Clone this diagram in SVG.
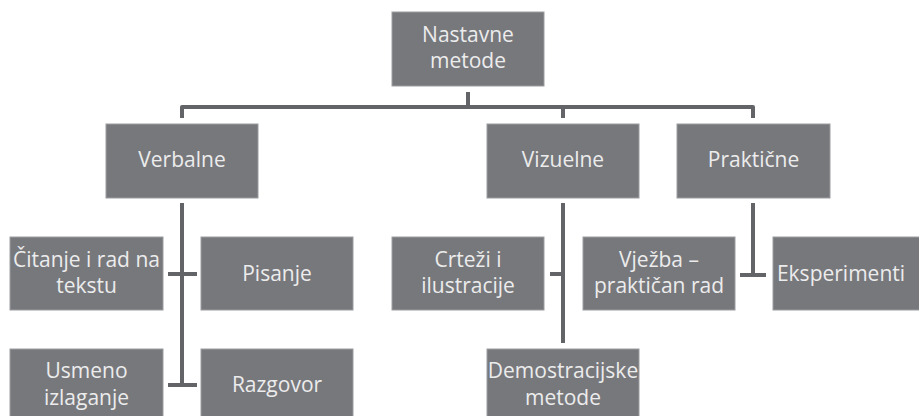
<svg xmlns="http://www.w3.org/2000/svg" width="919" height="416" viewBox="0 0 919 416">
<style>
.box{fill:#77787c;stroke:#9c9da0;stroke-width:1}
.t{font-family:"Open Sans","DejaVu Sans",sans-serif;font-size:21px;fill:#ececec;text-anchor:middle}
.c{stroke:#636467;stroke-width:4;fill:none;stroke-linecap:butt;stroke-linejoin:round}
</style>
<rect width="919" height="416" fill="#ffffff"/>
<g id="connectors">
<path class="c" d="M468 92V107M182 118V107H753V118M563 107V118"/>
<path class="c" d="M182 203V385M168 274H197M168 385H197"/>
<path class="c" d="M563 203V343M550 274H563"/>
<path class="c" d="M753 203V275M740 275H766"/>
</g>
<g id="n-nastavne"><rect class="box" x="392" y="12" width="152" height="74"/><text class="t" x="468" y="42">Nastavne</text><text class="t" x="468" y="68">metode</text></g>
<g id="n-verbalne"><rect class="box" x="106" y="124" width="152" height="74"/><text class="t" x="182" y="167">Verbalne</text></g>
<g id="n-vizuelne"><rect class="box" x="487" y="124" width="152" height="74"/><text class="t" x="563" y="167">Vizuelne</text></g>
<g id="n-prakticne"><rect class="box" x="677" y="124" width="153" height="74"/><text class="t" x="753.5" y="167">Praktične</text></g>
<g id="n-citanje"><rect class="box" x="10" y="237" width="153" height="73"/><text class="t" x="86.5" y="266.5">Čitanje i rad na</text><text class="t" x="86.5" y="292.5">tekstu</text></g>
<g id="n-pisanje"><rect class="box" x="201" y="237" width="152" height="73"/><text class="t" x="277" y="281">Pisanje</text></g>
<g id="n-usmeno"><rect class="box" x="10" y="349" width="153" height="74"/><text class="t" x="86.5" y="378">Usmeno</text><text class="t" x="86.5" y="405">izlaganje</text></g>
<g id="n-razgovor"><rect class="box" x="201" y="349" width="152" height="74"/><text class="t" x="277" y="392">Razgovor</text></g>
<g id="n-crtezi"><rect class="box" x="392" y="237" width="152" height="73"/><text class="t" x="468" y="266.5">Crteži i</text><text class="t" x="468" y="292.5">ilustracije</text></g>
<g id="n-demo"><rect class="box" x="487" y="349" width="152" height="74"/><text class="t" x="563" y="378">Demostracijske</text><text class="t" x="563" y="405">metode</text></g>
<g id="n-vjezba"><rect class="box" x="583" y="237" width="152" height="73"/><text class="t" x="659" y="266.5">Vježba –</text><text class="t" x="659" y="292.5">praktičan rad</text></g>
<g id="n-eksperimenti"><rect class="box" x="773" y="237" width="153" height="73"/><text class="t" x="841" y="281">Eksperimenti</text></g>
</svg>
